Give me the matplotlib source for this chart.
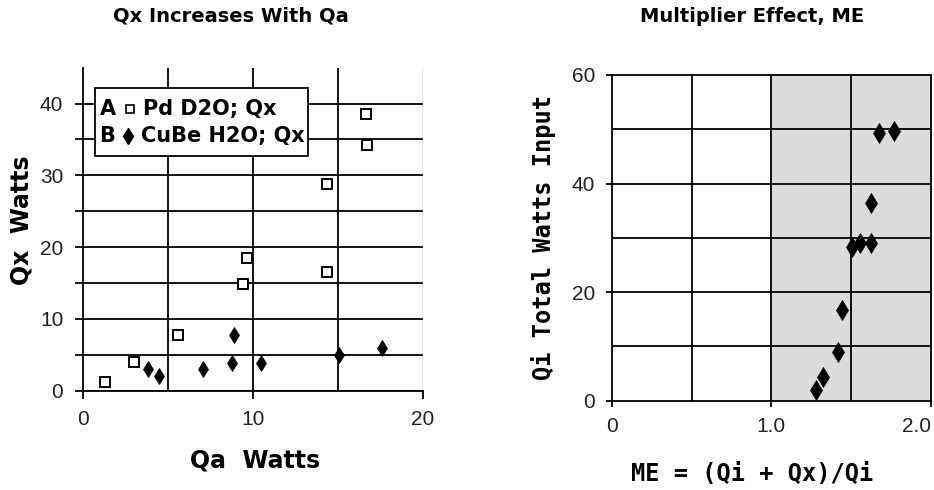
import matplotlib.pyplot as plt
from matplotlib.lines import Line2D
from matplotlib.patches import Rectangle

plt.rcParams['font.family'] = ['Liberation Sans', 'DejaVu Sans']

# left chart: Qx vs Qa
pd_qa = [1.33, 3.0, 5.6, 9.4, 9.65, 14.35, 14.35, 16.65, 16.75]
pd_qx = [1.25, 4.0, 7.7, 14.8, 18.5, 16.6, 28.8, 38.5, 34.3]
cube_qa = [3.86, 4.5, 7.1, 8.8, 8.9, 10.5, 15.1, 17.6]
cube_qx = [3.0, 2.1, 3.0, 3.8, 7.7, 3.8, 5.0, 5.9]

# right chart: Qi vs ME
me = [1.28, 1.326, 1.42, 1.44, 1.503, 1.555, 1.624, 1.624, 1.676, 1.77]
qi = [2.0, 4.3, 9.0, 16.7, 28.4, 29.0, 29.0, 36.5, 49.3, 49.7]

fig = plt.figure(figsize=(9.34, 4.9), dpi=100)

W, H = 934.0, 490.0
ax1 = fig.add_axes([82.7/W, 1-390.7/H, 340/W, 323/H])
ax2 = fig.add_axes([611.7/W, 1-400.7/H, 319.3/W, 325.7/H])

lw = 1.3
tick_font = dict(fontsize=15, color='#222222')

# ---- left ----
ax1.set_xlim(0, 20)
ax1.set_ylim(0, 45)
for v in range(0, 45, 5):
    ax1.axhline(v, color='black', lw=lw, zorder=1)
for v in [5, 10, 15]:
    ax1.axvline(v, color='black', lw=lw, zorder=1)
ax1.axvline(20, color='#888888', lw=1.0, zorder=1)
ax1.spines['top'].set_visible(False)
ax1.spines['right'].set_visible(False)
ax1.spines['left'].set_linewidth(lw)
ax1.spines['bottom'].set_linewidth(lw)
ax1.set_yticks(range(0, 45, 5))
ax1.set_yticklabels(['0', '', '10', '', '20', '', '30', '', '40'], **tick_font)
ax1.set_xticks([0, 10, 20])
ax1.set_xticklabels(['0', '10', '20'], **tick_font)
ax1.tick_params(length=6, width=lw, direction='out', pad=8)

ax1.plot(pd_qa, pd_qx, ls='none', marker='s', ms=7.5, mfc='white', mec='black',
         mew=1.4, zorder=3, clip_on=False)
ax1.plot(cube_qa, cube_qx, ls='none', marker='d', ms=8, mfc='black', mec='black',
         mew=0.5, zorder=3, clip_on=False)

# legend box
ax1.add_patch(Rectangle((0.036, 0.727), 0.627, 0.209, transform=ax1.transAxes,
                        facecolor='white', edgecolor='black', lw=lw, zorder=4))
leg_font = dict(fontsize=15, fontweight='bold', va='center', family='DejaVu Sans',
                transform=ax1.transAxes, zorder=5)
ax1.text(0.050, 0.872, 'A', **leg_font)
ax1.text(0.178, 0.872, 'Pd D2O; Qx', **leg_font)
ax1.text(0.048, 0.790, 'B', **leg_font)
ax1.text(0.171, 0.790, 'CuBe H2O; Qx', **leg_font)
ax1.add_line(Line2D([0.139], [0.872], transform=ax1.transAxes, marker='s', ms=6,
                    mfc='white', mec='black', mew=1.2, zorder=5))
ax1.add_line(Line2D([0.134], [0.790], transform=ax1.transAxes, marker='d', ms=8,
                    mfc='black', mec='black', zorder=5))

# ---- right ----
ax2.set_xlim(0, 2.0)
ax2.set_ylim(0, 60)
ax2.axvspan(1.0, 2.0, color='#dcdcdc', zorder=0)
for v in range(10, 60, 10):
    ax2.axhline(v, color='black', lw=lw, zorder=1)
for v in [0.5, 1.0, 1.5]:
    ax2.axvline(v, color='black', lw=lw, zorder=1)
for s in ax2.spines.values():
    s.set_linewidth(lw)
ax2.set_yticks([0, 20, 40, 60])
ax2.set_yticklabels(['0', '20', '40', '60'], **tick_font)
ax2.set_xticks([0, 1.0, 2.0])
ax2.set_xticklabels(['0', '1.0', '2.0'], **tick_font)
ax2.get_xticklabels()[-1].set_ha('right')
ax2.tick_params(length=4, width=lw, direction='out', pad=8)

ax2.plot(me, qi, ls='none', marker='d', ms=10.5, mfc='black', mec='black',
         mew=0.5, zorder=3, clip_on=False)

# titles and labels
ttl = dict(fontsize=14, fontweight='bold', ha='center', va='center', family='DejaVu Sans')
fig.text(231/W, 1-16/H, 'Qx Increases With Qa', **ttl)
fig.text(752/W, 1-16/H, 'Multiplier Effect, ME', **ttl)
lab = dict(fontsize=17, fontweight='bold', ha='center', va='center', family='DejaVu Sans')
fig.text(255/W, 1-460/H, 'Qa  Watts', **lab)
fig.text(22/W, 1-220/H, 'Qx  Watts', rotation=90, **lab)
mono = dict(fontsize=17, fontweight='bold', ha='center', va='center', family='DejaVu Sans Mono')
fig.text(543/W, 1-237/H, 'Qi Total Watts Input', rotation=90, **mono)
fig.text(752/W, 1-474/H, 'ME = (Qi + Qx)/Qi', **mono)

fig.savefig('out.png', dpi=100, facecolor='white')
